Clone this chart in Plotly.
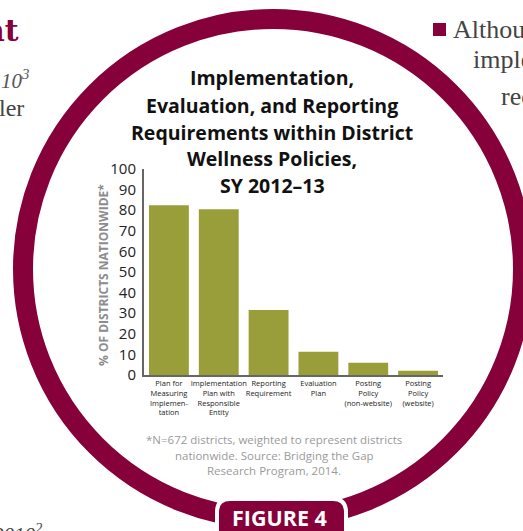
import plotly.graph_objects as go

W, H = 523, 531

categories = [
    "Plan for<br>Measuring<br>Implemen-<br>tation",
    "Implementation<br>Plan with<br>Responsible<br>Entity",
    "Reporting<br>Requirement",
    "Evaluation<br>Plan",
    "Posting<br>Policy<br>(non-website)",
    "Posting<br>Policy<br>(website)",
]
values = [82.4, 80.5, 31.5, 11.3, 6.0, 2.1]
y_ticks = list(range(0, 101, 10))

title_lines = [
    "Implementation,",
    "Evaluation, and Reporting",
    "Requirements within District",
    "Wellness Policies,",
    "SY 2012\u201313",
]
footnote_lines = [
    "*N=672 districts, weighted to represent districts",
    "nationwide. Source: Bridging the Gap",
    "Research Program, 2014.",
]
y_title = "% OF DISTRICTS NATIONWIDE*"
figure_label = "FIGURE 4"

MAGENTA = "#86003a"
OLIVE = "#9a9e3a"
SANS = "Open Sans"
SERIF = "Liberation Serif"


def px(x):
    return x / W


def py(y):
    return 1 - y / H


fig = go.Figure()
fig.add_trace(go.Bar(x=categories, y=values, marker=dict(color=OLIVE, line=dict(width=0)),
                     width=0.8, hoverinfo="skip"))

shapes = []
# ring
cx, cy, r = 273, 269, 250
shapes.append(dict(type="circle", xref="paper", yref="paper",
                   x0=px(cx - r), x1=px(cx + r), y0=py(cy + r), y1=py(cy - r),
                   line=dict(color=MAGENTA, width=20), fillcolor="rgba(0,0,0,0)", layer="below"))
# figure label box (rounded top corners)
bx0, bx1, by0, by1, rr = 217, 346, 499, 545, 13
path = (f"M {px(bx0)} {py(by1)} L {px(bx0)} {py(by0 + rr)} "
        f"Q {px(bx0)} {py(by0)} {px(bx0 + rr)} {py(by0)} "
        f"L {px(bx1 - rr)} {py(by0)} "
        f"Q {px(bx1)} {py(by0)} {px(bx1)} {py(by0 + rr)} "
        f"L {px(bx1)} {py(by1)} Z")
shapes.append(dict(type="path", xref="paper", yref="paper", path=path,
                   fillcolor=MAGENTA, line=dict(color="white", width=4), layer="above"))
# bullet square at right
shapes.append(dict(type="rect", xref="paper", yref="paper",
                   x0=px(433), x1=px(446), y0=py(36), y1=py(23),
                   fillcolor=MAGENTA, line=dict(width=0)))

ann = []
title_y = [78, 105, 132, 158, 185]
for t, yy in zip(title_lines, title_y):
    ann.append(dict(text=f"<b>{t}</b>", x=px(272), y=py(yy), xref="paper", yref="paper",
                    xanchor="center", yanchor="middle", showarrow=False,
                    font=dict(family=SANS, size=19.5, color="#111")))
foot_y = [439, 455.5, 470.5]
for t, yy in zip(footnote_lines, foot_y):
    ann.append(dict(text=t, x=px(274), y=py(yy), xref="paper", yref="paper",
                    xanchor="center", yanchor="middle", showarrow=False,
                    font=dict(family=SANS, size=11.5, color="#9a9a9a")))
ann.append(dict(text=f"<b>{y_title}</b>", x=px(103), y=py(275), xref="paper", yref="paper",
                xanchor="center", yanchor="middle", showarrow=False, textangle=-90,
                font=dict(family=SANS, size=12, color="#8c8c8c")))
ann.append(dict(text=f"<b>{figure_label}</b>", x=px(279), y=py(517), xref="paper", yref="paper",
                xanchor="center", yanchor="middle", showarrow=False,
                font=dict(family=SANS, size=21.5, color="white")))
# surrounding page text fragments
ann.append(dict(text="<b>nt</b>", x=px(21), y=py(31), xref="paper", yref="paper",
                xanchor="right", yanchor="middle", showarrow=False,
                font=dict(family="DejaVu Serif", size=30, color=MAGENTA)))
ann.append(dict(text="<i>10<sup>3</sup></i>", x=px(31), y=py(79), xref="paper", yref="paper",
                xanchor="right", yanchor="middle", showarrow=False,
                font=dict(family=SERIF, size=21, color="#555")))
ann.append(dict(text="ler", x=px(26), y=py(108), xref="paper", yref="paper",
                xanchor="right", yanchor="middle", showarrow=False,
                font=dict(family=SERIF, size=24, color="#444")))
ann.append(dict(text="Although", x=px(451), y=py(29), xref="paper", yref="paper",
                xanchor="left", yanchor="middle", showarrow=False,
                font=dict(family=SERIF, size=26, color="#444")))
ann.append(dict(text="implementation", x=px(471), y=py(60), xref="paper", yref="paper",
                xanchor="left", yanchor="middle", showarrow=False,
                font=dict(family=SERIF, size=26, color="#444")))
ann.append(dict(text="require", x=px(499), y=py(96), xref="paper", yref="paper",
                xanchor="left", yanchor="middle", showarrow=False,
                font=dict(family=SERIF, size=26, color="#444")))
ann.append(dict(text="<i>2010<sup>2</sup></i>", x=px(45), y=py(518), xref="paper", yref="paper",
                xanchor="right", yanchor="top", showarrow=False,
                font=dict(family=SERIF, size=21, color="#444")))

fig.update_layout(
    width=W, height=H,
    margin=dict(l=0, r=0, t=0, b=0, pad=0, autoexpand=False),
    paper_bgcolor="white", plot_bgcolor="rgba(0,0,0,0)",
    showlegend=False, bargap=0.2,
    shapes=shapes, annotations=ann,
    xaxis=dict(domain=[px(144), px(443)], range=[-0.5, 5.5], type="category",
               showline=True, linecolor="#666", linewidth=2, ticks="", showgrid=False,
               automargin=False,
               tickfont=dict(family=SANS, size=7.5, color="#222"), tickangle=0),
    yaxis=dict(domain=[py(375), py(169)], range=[0, 100], tickvals=y_ticks,
               showline=True, linecolor="#666", linewidth=2, ticks="", showgrid=False,
               zeroline=False, ticklabelstandoff=3, automargin=False,
               tickfont=dict(family=SANS, size=15, color="#222")),
)

fig.write_html("out.html")
